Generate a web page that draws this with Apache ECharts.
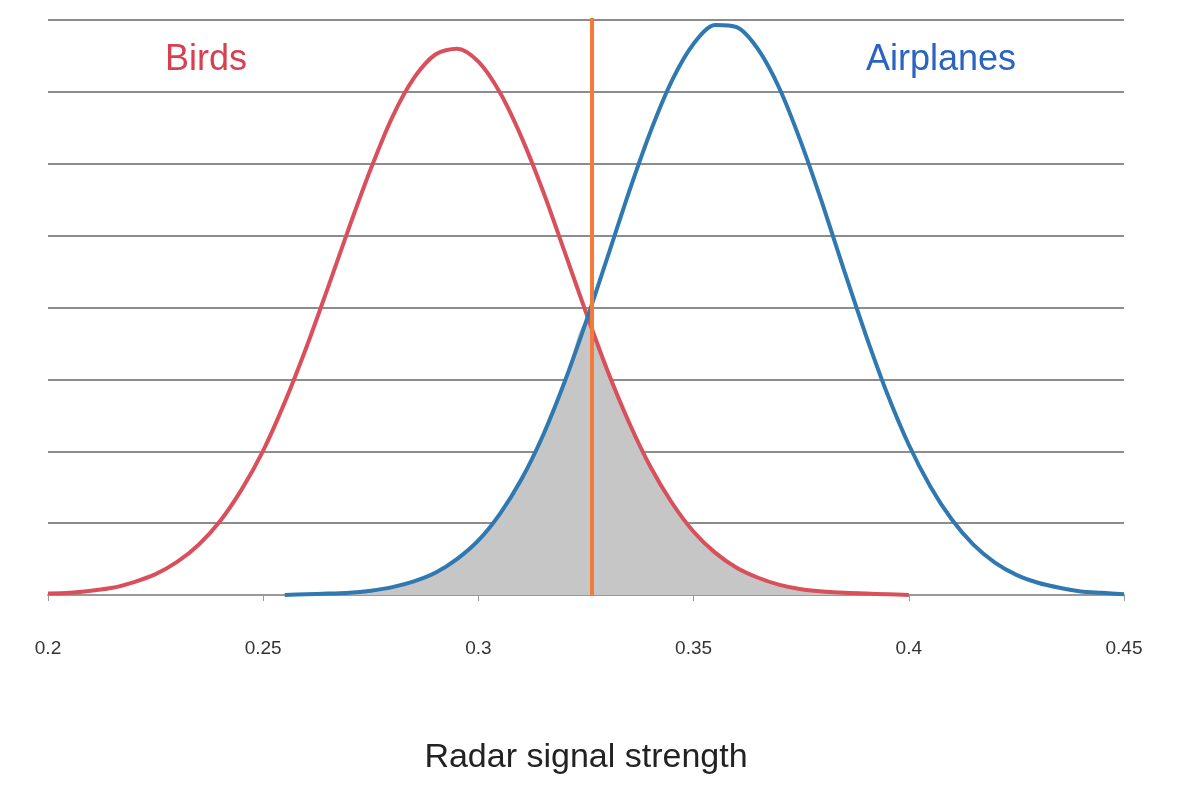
<!DOCTYPE html>
<html>
<head>
<meta charset="utf-8">
<script src="https://cdn.jsdelivr.net/npm/echarts@6/dist/echarts.min.js"></script>
<style>
    html, body { margin: 0; padding: 0; background: #fff; }
    #chart { width: 1189px; height: 792px; }
</style>
</head>
<body>
<div id="chart"></div>
<script>
    // radar signal strength samples (x) and heights
    var birdX = [0.200, 0.205, 0.210, 0.215, 0.220, 0.225, 0.230, 0.235, 0.240, 0.245,
        0.250, 0.255, 0.260, 0.265, 0.270, 0.275, 0.280, 0.285, 0.290, 0.295,
        0.300, 0.305, 0.310, 0.315, 0.320, 0.325, 0.330, 0.335, 0.340, 0.345,
        0.350, 0.355, 0.360, 0.365, 0.370, 0.375, 0.380, 0.385, 0.390, 0.395, 0.400];
    var birdY = [0.02, 0.03, 0.06, 0.10, 0.18, 0.29, 0.46, 0.70, 1.03, 1.47,
        2.01, 2.68, 3.44, 4.27, 5.12, 5.93, 6.65, 7.19, 7.52, 7.60,
        7.42, 6.99, 6.37, 5.62, 4.78, 3.93, 3.12, 2.40, 1.78, 1.28,
        0.88, 0.59, 0.38, 0.24, 0.14, 0.08, 0.05, 0.03, 0.02, 0.01, 0.00];
    var planeX = [0.255, 0.260, 0.265, 0.270, 0.275, 0.280, 0.285, 0.290, 0.295, 0.300,
        0.305, 0.310, 0.315, 0.320, 0.325, 0.330, 0.335, 0.340, 0.345, 0.350,
        0.355, 0.360, 0.365, 0.370, 0.375, 0.380, 0.385, 0.390, 0.395, 0.400,
        0.405, 0.410, 0.415, 0.420, 0.425, 0.430, 0.435, 0.440, 0.445, 0.450];
    var planeY = [0.00, 0.01, 0.02, 0.03, 0.06, 0.11, 0.19, 0.31, 0.50, 0.76,
        1.13, 1.61, 2.22, 2.96, 3.80, 4.70, 5.61, 6.45, 7.16, 7.67,
        7.93, 7.90, 7.59, 7.04, 6.29, 5.43, 4.51, 3.62, 2.80, 2.09,
        1.51, 1.05, 0.70, 0.45, 0.28, 0.17, 0.10, 0.05, 0.03, 0.01];
    var threshold = 0.3264;
    var xTicks = ['0.2', '0.25', '0.3', '0.35', '0.4', '0.45'];

    function pairs(xs, ys) {
        return xs.map(function (x, i) { return [x, ys[i]]; });
    }
    // shaded overlap = lower of the two curves where both exist
    var overlap = [];
    planeX.forEach(function (x, i) {
        var j = birdX.indexOf(x);
        if (j >= 0) overlap.push([x, Math.min(birdY[j], planeY[i])]);
    });

    var myChart = echarts.init(document.getElementById('chart'));
    myChart.setOption({
        animation: false,
        grid: { left: 48, right: 65, top: 20, bottom: 197 },
        xAxis: {
            type: 'value', min: 0.2, max: 0.45, interval: 0.05,
            axisLine: { lineStyle: { color: '#999', width: 2 } },
            axisTick: { show: true, length: 6, lineStyle: { color: '#999' } },
            axisLabel: {
                margin: 44, fontSize: 19, color: '#333', fontFamily: 'Liberation Sans',
                formatter: function (v) { return xTicks[Math.round((v - 0.2) / 0.05)]; }
            },
            splitLine: { show: false },
            name: 'Radar signal strength', nameLocation: 'middle', nameGap: 146,
            nameTextStyle: { fontSize: 34, color: '#222', fontFamily: 'Liberation Sans' }
        },
        yAxis: {
            type: 'value', min: 0, max: 8, interval: 1,
            axisLine: { show: false }, axisTick: { show: false }, axisLabel: { show: false },
            splitLine: { lineStyle: { color: '#8c8c8c', width: 2 } }
        },
        series: [
            {
                type: 'line', data: overlap, symbol: 'none', smooth: 0.3,
                lineStyle: { width: 0 }, areaStyle: { color: '#c6c6c6', opacity: 1 }
            },
            {
                type: 'line', data: pairs(birdX, birdY), symbol: 'none', smooth: 0.3,
                lineStyle: { color: '#d9505b', width: 4 }
            },
            {
                type: 'line', data: pairs(planeX, planeY), symbol: 'none', smooth: 0.3,
                lineStyle: { color: '#2f78b0', width: 4 }
            },
            {
                type: 'line', data: [[threshold, 0], [threshold, 8.1]], symbol: 'none',
                lineStyle: { color: '#f47a38', width: 4 }, z: 5
            }
        ],
        graphic: [
            { type: 'text', z: 100, left: 165, top: 42, style: { text: 'Birds', fontSize: 36, fill: '#d9404f', fontFamily: 'Liberation Sans' } },
            { type: 'text', z: 100, left: 866, top: 42, style: { text: 'Airplanes', fontSize: 36, fill: '#2b63c2', fontFamily: 'Liberation Sans' } },
            { type: 'text', z: 1, left: 509, top: 530, style: { text: 'Overlap!', fontSize: 36, fill: '#222', fontFamily: 'Liberation Sans' } }
        ]
    });
</script>
</body>
</html>
